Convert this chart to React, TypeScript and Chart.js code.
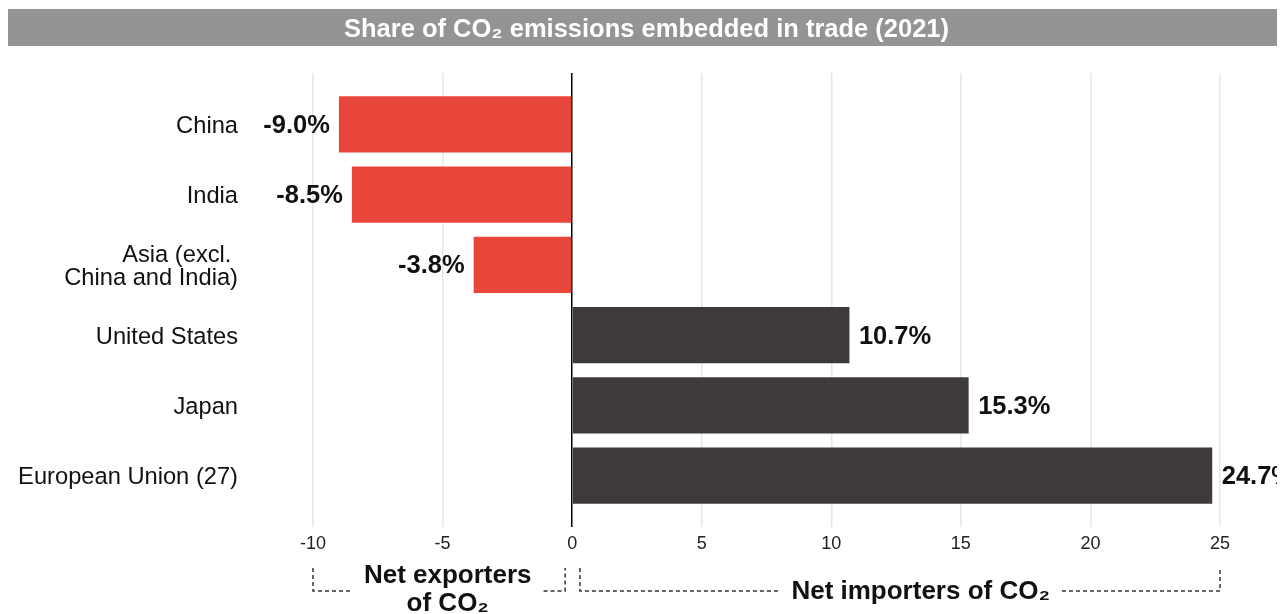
import React, { useEffect, useRef } from "react";
import { Chart, registerables } from "chart.js";

Chart.register(...registerables);

const categories: (string | string[])[] = [
  "China",
  "India",
  ["Asia (excl. ", "China and India)"],
  "United States",
  "Japan",
  "European Union (27)",
];
const values: number[] = [-9.0, -8.5, -3.8, 10.7, 15.3, 24.7];
const xTicks: number[] = [-10, -5, 0, 5, 10, 15, 20, 25];
const titleText = "Share of CO₂ emissions embedded in trade (2021)";
const exportersLabel: string[] = ["Net exporters", "of CO₂"];
const importersLabel = "Net importers of CO₂";
// bracket extents (in axis units) and label centres
const exportersRange: [number, number] = [-10, -0.27];
const importersRange: [number, number] = [0.3, 25];
const exportersCenter = -4.8;
const importersCenter = 13.45;

const RED = "#E8463A";
const DARK = "#3E3A39";
const FONT = "'Liberation Sans', Arial, Helvetica, sans-serif";

export default function App() {
  const ref = useRef<HTMLCanvasElement | null>(null);

  useEffect(() => {
    document.documentElement.style.overflow = "hidden";
    document.body.style.overflow = "hidden";
    const canvas = ref.current;
    if (!canvas) return;

    const bandPlugin = {
      id: "band",
      beforeDraw(chart: any) {
        const { ctx, width } = chart;
        ctx.save();
        ctx.fillStyle = "#949494";
        ctx.fillRect(0, 1, width, 37);
        ctx.restore();
      },
    };

    const labelPlugin = {
      id: "valueLabels",
      afterDatasetsDraw(chart: any) {
        const { ctx } = chart;
        const meta = chart.getDatasetMeta(0);
        ctx.save();
        ctx.font = `bold 25.5px ${FONT}`;
        ctx.fillStyle = "#111";
        ctx.textBaseline = "middle";
        meta.data.forEach((el: any, i: number) => {
          const v = values[i];
          const txt = `${v.toFixed(1)}%`;
          if (v < 0) {
            ctx.textAlign = "right";
            ctx.fillText(txt, el.x - 9, el.y + 1.5);
          } else {
            ctx.textAlign = "left";
            ctx.fillText(txt, el.x + 9.5, el.y + 1.5);
          }
        });
        ctx.restore();
      },
    };

    const bracketPlugin = {
      id: "brackets",
      afterDraw(chart: any) {
        const { ctx } = chart;
        const xs = chart.scales.x;
        const yTop = 560;
        const yLine = 583;
        ctx.save();
        ctx.font = `bold 26px ${FONT}`;
        ctx.fillStyle = "#111";
        ctx.textAlign = "center";
        ctx.textBaseline = "middle";
        ctx.strokeStyle = "#333";
        ctx.lineWidth = 1.5;
        ctx.setLineDash([4, 3]);

        const drawBracket = (
          range: [number, number],
          center: number,
          textWidth: number
        ) => {
          const x0 = xs.getPixelForValue(range[0]);
          const x1 = xs.getPixelForValue(range[1]);
          const cx = xs.getPixelForValue(center);
          const gapL = cx - textWidth / 2 - 12;
          const gapR = cx + textWidth / 2 + 12;
          ctx.beginPath();
          ctx.moveTo(x0, yTop);
          ctx.lineTo(x0, yLine);
          ctx.lineTo(gapL, yLine);
          ctx.moveTo(gapR, yLine);
          ctx.lineTo(x1, yLine);
          ctx.lineTo(x1, yTop);
          ctx.stroke();
        };

        const wExp = ctx.measureText(exportersLabel[0]).width;
        const wImp = ctx.measureText(importersLabel).width;
        drawBracket(exportersRange, exportersCenter, wExp);
        drawBracket(importersRange, importersCenter, wImp);

        const cxE = xs.getPixelForValue(exportersCenter);
        ctx.fillText(exportersLabel[0], cxE, 567.5);
        ctx.fillText(exportersLabel[1], cxE, 596);
        const cxI = xs.getPixelForValue(importersCenter);
        ctx.fillText(importersLabel, cxI, 584);
        ctx.restore();
      },
    };

    const chart = new Chart(canvas, {
      type: "bar",
      data: {
        datasets: [
          {
            data: values.map((v, i) => ({ x: v, y: i })),
            backgroundColor: values.map((v) => (v < 0 ? RED : DARK)),
            borderWidth: 0,
            barPercentage: 0.8,
            categoryPercentage: 1,
          },
        ],
      },
      options: {
        indexAxis: "y",
        animation: false,
        responsive: true,
        maintainAspectRatio: false,
        layout: { padding: 0 },
        plugins: {
          legend: { display: false },
          tooltip: { enabled: false },
          title: {
            display: true,
            text: titleText,
            color: "#ffffff",
            font: { family: FONT, size: 25.5, weight: "bold" },
            padding: { top: 6.5, bottom: 27.9 },
          },
        },
        scales: {
          x: {
            type: "linear",
            min: -10,
            max: 25,
            afterBuildTicks: (axis: any) => {
              axis.ticks = xTicks.map((v) => ({ value: v }));
            },
            afterFit: (scale: any) => {
              scale.height = 87;
              scale.paddingLeft = 0;
              scale.paddingRight = 65;
            },
            ticks: {
              color: "#222",
              font: { family: FONT, size: 18 },
              padding: 6,
            },
            grid: {
              drawTicks: false,
              color: (ctx: any) =>
                ctx.tick && ctx.tick.value === 0 ? "#000000" : "#e6e6e6",
              lineWidth: 1.5,
            },
            border: { display: false },
          },
          y: {
            type: "linear",
            offset: false,
            min: -0.73,
            max: 5.73,
            reverse: true,
            afterBuildTicks: (axis: any) => {
              axis.ticks = categories.map((_, i) => ({ value: i }));
            },
            afterFit: (scale: any) => {
              scale.width = 305;
              scale.paddingTop = 0;
              scale.paddingBottom = 0;
            },
            ticks: {
              color: "#111",
              font: { family: FONT, size: 23.7, lineHeight: 0.97 },
              padding: 75,
              labelOffset: 2,
              callback: (value: any) => categories[Math.round(Number(value))] as any,
            },
            grid: { display: false, drawTicks: false },
            border: { display: false },
          },
        },
      } as any,
      plugins: [bandPlugin, labelPlugin, bracketPlugin],
    });

    return () => {
      chart.destroy();
    };
  }, []);

  return (
    <div style={{ width: 1277, height: 606, position: "relative" }}>
      <canvas ref={ref} />
    </div>
  );
}
